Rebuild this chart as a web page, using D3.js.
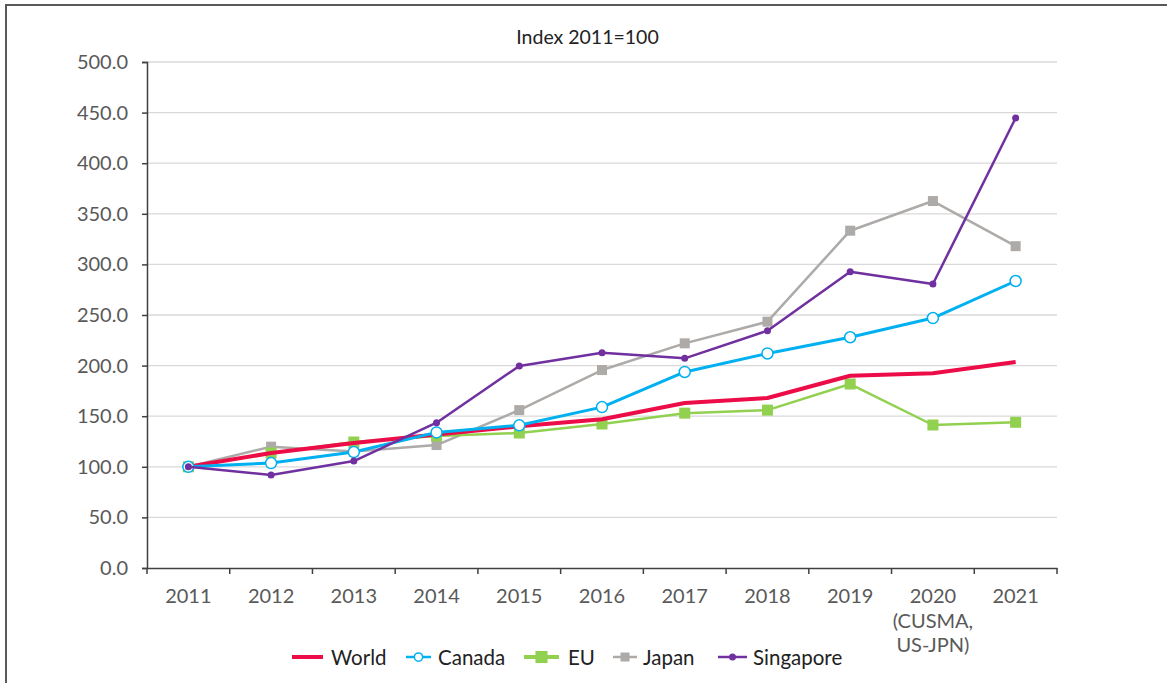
<!DOCTYPE html>
<html><head><meta charset="utf-8">
<script src="https://cdn.jsdelivr.net/npm/d3@7"></script>
<style>
html,body{margin:0;padding:0;background:#fff;}
svg{display:block;font-family:Lato,"Open Sans",sans-serif;}
</style></head>
<body>
<svg id="chart" width="1167" height="683"></svg>
<script>
const years = ["2011","2012","2013","2014","2015","2016","2017","2018","2019","2020","2021"];
const yearLabels = [["2011"],["2012"],["2013"],["2014"],["2015"],["2016"],["2017"],["2018"],["2019"],["2020","(CUSMA,","US-JPN)"],["2021"]];
const yTicks = [0,50,100,150,200,250,300,350,400,450,500];
const world = [100,113.6,123.5,132,140,147,163,168,190,192.5,203.5];
const canada = [100,103.7,114.6,134,141,159,193.7,212,228,247,283.6];
const eu = [100,113.6,124.5,130.4,133.4,142.3,153,156,181.8,141.3,144];
const japan = [100,119.9,115,121.5,156,195.6,222,243.4,333.3,362.6,318];
const singapore = [100,92,105.7,143.6,199.6,212.7,207.2,234.5,292.8,280.6,444.7];
const seriesNames = ["World","Canada","EU","Japan","Singapore"];

const series = [
  {name:"World", values:world, color:"#EC0C47", width:4, marker:"none"},
  {name:"Canada", values:canada, color:"#00B0F0", width:3, marker:"circle"},
  {name:"EU", values:eu, color:"#92D050", width:2.5, marker:"bigsquare"},
  {name:"Japan", values:japan, color:"#ADAAA8", width:2.5, marker:"square"},
  {name:"Singapore", values:singapore, color:"#7030A0", width:2.5, marker:"dot"}
];

const svg = d3.select("#chart");
// outer border
svg.append("path").attr("d","M6,690 L6,5 L1175,5").attr("fill","none").attr("stroke","#595959").attr("stroke-width",2);

const L=147, R=1057, T=62, B=568;
const x = d3.scaleBand().domain(years).range([L,R]);
const y = d3.scaleLinear().domain([0,500]).range([B,T]);

// gridlines
svg.append("g").selectAll("line").data(yTicks.filter(d=>d>0)).join("line")
  .attr("x1",L).attr("x2",R).attr("y1",d=>y(d)).attr("y2",d=>y(d))
  .attr("stroke","#D9D9D9").attr("stroke-width",1.3);

// y axis
const yAxis = svg.append("g").attr("transform",`translate(${L},0)`)
  .call(d3.axisLeft(y).tickValues(yTicks).tickFormat(d3.format(".1f")).tickSize(5).tickPadding(14));
yAxis.select(".domain").attr("stroke","#404040").attr("stroke-width",1.5);
yAxis.selectAll(".tick line").attr("stroke","#404040").attr("stroke-width",1.5);
yAxis.selectAll("text").attr("font-size",20).attr("fill","#595959").attr("font-family","Lato");

// x axis
const xAxis = svg.append("g").attr("transform",`translate(0,${B})`)
  .call(d3.axisBottom(x).tickSize(0).tickFormat(""));
xAxis.select(".domain").attr("stroke","#404040").attr("stroke-width",1.5);
const bounds = years.map(d=>x(d)).concat([R]);
xAxis.selectAll(".bt").data(bounds).join("line").attr("class","bt")
  .attr("x1",d=>d).attr("x2",d=>d).attr("y1",0).attr("y2",6)
  .attr("stroke","#404040").attr("stroke-width",1.5);
const xl = svg.append("g").selectAll("text").data(years).join("text")
  .attr("x",d=>x(d)+x.bandwidth()/2).attr("y",B+35)
  .attr("text-anchor","middle").attr("font-size",20).attr("fill","#595959");
xl.each(function(d,i){
  const t=d3.select(this);
  yearLabels[i].forEach((s,j)=>{
    t.append("tspan").attr("x",x(d)+x.bandwidth()/2).attr("dy",j===0?0:24.5).text(s);
  });
});

// title
svg.append("text").attr("x",587.5).attr("y",44).attr("text-anchor","middle")
  .attr("font-size",19.5).attr("fill","#222").text("Index 2011=100");

const cx = d=>x(d)+x.bandwidth()/2;
const line = d3.line().x((v,i)=>cx(years[i])).y(v=>y(v));

function drawMarker(g, type, color, px, py, scale){
  const k = scale||1;
  if(type==="circle"){
    g.append("circle").attr("cx",px).attr("cy",py).attr("r",5.5*k).attr("fill","#fff").attr("stroke",color).attr("stroke-width",1.5);
  } else if(type==="bigsquare"){
    const s=11*k;
    g.append("rect").attr("x",px-s/2).attr("y",py-s/2).attr("width",s).attr("height",s).attr("fill",color);
  } else if(type==="square"){
    const s=10*k;
    g.append("rect").attr("x",px-s/2).attr("y",py-s/2).attr("width",s).attr("height",s).attr("fill",color);
  } else if(type==="dot"){
    g.append("circle").attr("cx",px).attr("cy",py).attr("r",3.5).attr("fill",color);
  }
}

const order = ["Japan","EU","World","Canada","Singapore"];
order.forEach(n=>{
  const s = series.find(q=>q.name===n);
  const g = svg.append("g");
  g.append("path").datum(s.values).attr("d",line).attr("fill","none")
    .attr("stroke",s.color).attr("stroke-width",s.width).attr("stroke-linejoin","round");
  s.values.forEach((v,i)=>drawMarker(g,s.marker,s.color,cx(years[i]),y(v)));
});

// legend
const legY = 657;
const leg = [
  {name:"World", x1:292, x2:323, tx:331, w:4, k:1},
  {name:"Canada", x1:406, x2:431, tx:438, w:2.5, k:0.75},
  {name:"EU", x1:524, x2:559, tx:568, w:4, k:1.1},
  {name:"Japan", x1:613, x2:637, tx:643, w:2.5, k:0.9},
  {name:"Singapore", x1:718, x2:747, tx:753, w:2.5, k:1}
];
leg.forEach(l=>{
  const s = series.find(q=>q.name===l.name);
  const g = svg.append("g");
  g.append("line").attr("x1",l.x1).attr("x2",l.x2).attr("y1",legY).attr("y2",legY)
    .attr("stroke",s.color).attr("stroke-width",l.w);
  drawMarker(g,s.marker,s.color,(l.x1+l.x2)/2,legY,l.k);
  g.append("text").attr("x",l.tx).attr("y",legY+7.5).attr("font-size",20.5).attr("fill","#222").text(l.name);
});
</script>
</body></html>
